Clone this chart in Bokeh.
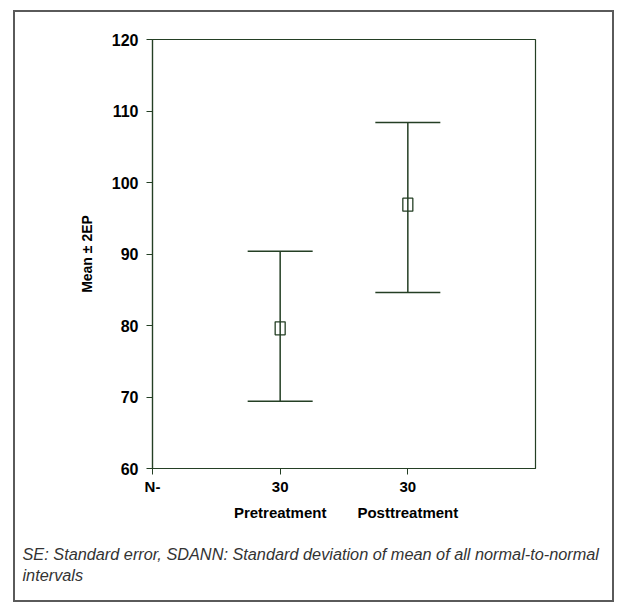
from bokeh.plotting import figure
from bokeh.models import (ColumnDataSource, Whisker, TeeHead, LinearAxis, FixedTicker,
                          Range1d, Title)
from bokeh.embed import file_html
from bokeh.resources import INLINE

# ---- data ----
groups = ["Pretreatment", "Posttreatment"]
n_counts = [30, 30]
means = [79.6, 96.9]
upper = [90.4, 108.4]
lower = [69.4, 84.6]
y_ticks = [60, 70, 80, 90, 100, 110, 120]
y_label = "Mean \u00b1 2EP"
caption_lines = ["SE: Standard error, SDANN: Standard deviation of mean of all normal-to-normal",
                 "intervals"]

pos = [i + 1 for i in range(len(groups))]
src = ColumnDataSource(dict(x=pos, mean=means, upper=upper, lower=lower))

GREEN = "#243f24"
FONT = "Liberation Sans"

W, H = 601, 592
p = figure(width=W, height=H, output_backend="svg", toolbar_location=None,
           x_range=Range1d(0, 3), y_range=Range1d(60, 120),
           min_border_left=137, min_border_right=81, min_border_top=27,
           min_border_bottom=136, background_fill_color="white",
           border_fill_color="white", x_axis_location=None, y_axis_location=None)
p.styles = {"border": "2px solid #5a5a5a", "margin-left": "13px", "margin-top": "10px"}
p.grid.visible = False
p.outline_line_color = GREEN
p.outline_line_width = 1.2

# y axis
ya = LinearAxis(ticker=FixedTicker(ticks=y_ticks), axis_label=y_label)
ya.axis_line_color = GREEN
ya.axis_line_width = 1.2
ya.major_tick_line_color = GREEN
ya.major_tick_in = 0
ya.major_tick_out = 6
ya.minor_tick_line_color = None
ya.major_label_text_font = FONT
ya.major_label_text_font_style = "bold"
ya.major_label_text_font_size = "16px"
ya.major_label_text_color = "black"
ya.major_label_standoff = 8
ya.axis_label_text_font = FONT
ya.axis_label_text_font_style = "bold"
ya.axis_label_text_font_size = "14px"
ya.axis_label_text_color = "black"
ya.axis_label_standoff = 14
p.add_layout(ya, "left")

# x axis: N counts
xa = LinearAxis(ticker=FixedTicker(ticks=[0] + pos))
xa.major_label_overrides = {0: "N-", **{pp: str(c) for pp, c in zip(pos, n_counts)}}
xa.axis_line_color = GREEN
xa.axis_line_width = 1.2
xa.major_tick_line_color = GREEN
xa.major_tick_in = 0
xa.major_tick_out = 6
xa.minor_tick_line_color = None
xa.major_label_text_font = FONT
xa.major_label_text_font_style = "bold"
xa.major_label_text_font_size = "15px"
xa.major_label_text_color = "black"
xa.major_label_standoff = 3
p.add_layout(xa, "below")

# x axis: group names
xb = LinearAxis(ticker=FixedTicker(ticks=pos))
xb.major_label_overrides = {pp: g for pp, g in zip(pos, groups)}
xb.axis_line_color = None
xb.major_tick_line_color = None
xb.minor_tick_line_color = None
xb.major_label_text_font = FONT
xb.major_label_text_font_style = "bold"
xb.major_label_text_font_size = "15px"
xb.major_label_text_color = "black"
xb.major_label_standoff = 0
p.add_layout(xb, "below")

# error bars
wh = Whisker(base="x", upper="upper", lower="lower", source=src,
             line_color=GREEN, line_width=1.5,
             upper_head=TeeHead(size=65, line_color=GREEN, line_width=1.5),
             lower_head=TeeHead(size=65, line_color=GREEN, line_width=1.5))
p.add_layout(wh)

# mean markers
p.rect(x="x", y="mean", width=10, height=13, width_units="screen", height_units="screen",
       source=src, fill_color=None, line_color=GREEN, line_width=1.3)

# caption
cap = Title(text="\n".join(caption_lines), align="left", text_font=FONT,
            text_font_style="italic", text_font_size="16.3px", text_color="#333333",
            text_line_height=1.2, offset=-130, standoff=38)
p.add_layout(cap, "below")

open("out.html", "w").write(file_html(p, INLINE))
